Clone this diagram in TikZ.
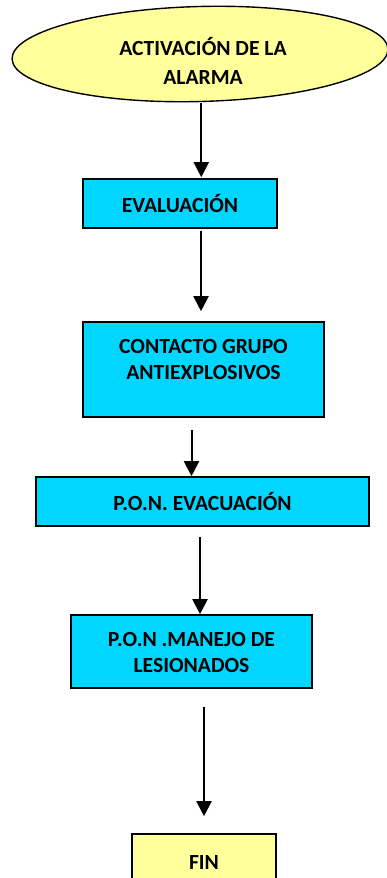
\documentclass[tikz,border=0pt]{standalone}
\usepackage{fontspec}
\setmainfont{Carlito}[BoldFont={Carlito Bold}]
\usetikzlibrary{shapes.geometric,arrows.meta}
\definecolor{boxcyan}{RGB}{0,214,255}
\definecolor{paleyellow}{RGB}{255,255,155}
\begin{document}
\begin{tikzpicture}[x=1pt,y=-1pt,
  box/.style={draw=black,line width=1.6pt,fill=boxcyan,rectangle,inner sep=0pt},
  endbox/.style={draw=black,line width=1.6pt,fill=paleyellow,rectangle,inner sep=0pt},
  txt/.style={font=\fontsize{21.6}{26}\selectfont\bfseries,align=center,inner sep=0pt},
  arr/.style={line width=2pt,-{Triangle[width=15pt,length=15pt]}}]
\useasboundingbox (0,0) rectangle (387,878);
\clip (0,0) rectangle (387,878);
% start ellipse
\node[ellipse,draw=black,line width=1.4pt,fill=paleyellow,minimum width=376pt,minimum height=95pt,inner sep=0pt,rotate=1.5] (alarm) at (200,54) {};
\node[txt,font=\fontsize{21.6}{29}\selectfont\bfseries] (alarmt) at (203,61) {ACTIVACIÓN DE LA\\ALARMA};
% boxes
\node[box,minimum width=194pt,minimum height=49pt] (eval) at (180,203.5) {};
\node[txt] (evalt) at (180,203.5) {EVALUACIÓN};
\node[box,minimum width=241pt,minimum height=95pt] (contact) at (203.5,369.5) {};
\node[txt] (contactt) at (203.5,359) {CONTACTO GRUPO\\ANTIEXPLOSIVOS};
\node[box,minimum width=333pt,minimum height=49pt] (pon) at (202.5,501.5) {};
\node[txt] (pont) at (202.5,502) {P.O.N. EVACUACIÓN};
\node[box,minimum width=241pt,minimum height=73pt] (manejo) at (191.5,651.5) {};
\node[txt] (manejot) at (191.5,652.5) {P.O.N .MANEJO DE\\LESIONADOS};
\node[endbox,minimum width=144pt,minimum height=60pt] (fin) at (204,864) {};
\node[txt] (fint) at (204,862) {FIN};
% arrows
\draw[arr,shorten <=1pt,shorten >=1pt] (alarm.south) -- (alarm.south |- eval.north);
\draw[arr,shorten <=2pt,shorten >=10pt] ([xshift=-2.5pt]eval.south -| contact.north) -- ([xshift=-2.5pt]contact.north);
\draw[arr,shorten <=12pt] ([xshift=-12pt]contact.south) -- ([xshift=-12pt]contact.south |- pon.north);
\draw[arr,shorten <=10pt] ([xshift=-2.5pt]pon.south) -- ([xshift=-2.5pt]pon.south |- manejo.north);
\draw[arr,shorten <=18pt,shorten >=17pt] (manejo.south -| fin.north) -- (fin.north);
\end{tikzpicture}
\end{document}
